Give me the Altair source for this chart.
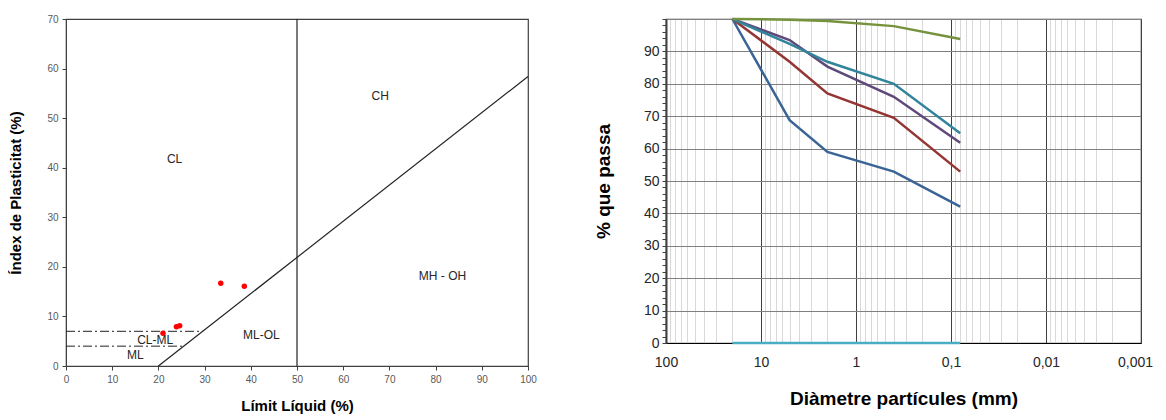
import altair as alt
import pandas as pd

FONT = "Liberation Sans"

# ---------------- Left chart: plasticity chart ----------------
pts_ll = [21.0, 23.9, 24.6, 33.5, 38.6]
pts_pi = [6.6, 7.9, 8.1, 16.7, 16.1]

aline_ll = [20, 100]
aline_pi = [0, 58.4]

vline_ll = [50, 50]
vline_pi = [0, 70]

dash7_ll = [0, 29.6]
dash7_pi = [7, 7]
dash4_ll = [0, 25.5]
dash4_pi = [4, 4]

zone_names = ["CL", "CH", "MH  - OH", "ML-OL", "CL-ML", "ML"]
zone_ll = [23.5, 68.0, 81.5, 42.3, 19.3, 15.0]
zone_pi = [41.8, 54.5, 18.2, 6.3, 5.2, 2.2]

# ---------------- Right chart: grading curves ----------------
sieves = [20, 5, 2, 0.4, 0.08]
s1 = [100, 68.8, 59.0, 52.9, 42.1]
s2 = [100, 86.8, 77.0, 69.5, 52.9]
s3 = [100, 93.5, 85.3, 76.0, 61.8]
s4 = [100, 92.3, 86.8, 80.0, 64.7]
s5 = [100, 99.8, 99.4, 97.8, 93.8]
s6 = [0, 0, 0, 0, 0]
series_names = ["M1", "M2", "M3", "M4", "M5", "M6"]
series_colors = ["#3B6496", "#943634", "#5F497A", "#31849B", "#76923C", "#4BACC6"]

x_major = [100, 10, 1, 0.1, 0.01, 0.001]
x_minor = []
for dec in [10, 1, 0.1, 0.01, 0.001]:
    for m in range(2, 10):
        x_minor.append(round(m * dec, 6))
x_ticks = x_major + x_minor

y_ticks = list(range(0, 101, 2))

# ================= build left =================
LX = alt.Scale(domain=[0, 100], nice=False)
LY = alt.Scale(domain=[0, 70], nice=False)

left_x_axis = alt.Axis(values=list(range(0, 101, 10)), title="Límit Líquid (%)", grid=False,
                       labelFontSize=10, labelColor="#595959", titleFontSize=15,
                       titleFontWeight="bold", titlePadding=14, tickSize=4, labelFlush=False,
                       domainColor="#404040", tickColor="#404040", labelPadding=4)
left_y_axis = alt.Axis(values=list(range(0, 71, 10)), title="Índex de Plasticitat (%)", grid=False,
                       labelFontSize=10, labelColor="#595959", titleFontSize=15,
                       titleFontWeight="bold", titlePadding=23, tickSize=4, labelFlush=False,
                       domainColor="#404040", tickColor="#404040", labelPadding=4)

def seg(xs, ys, name):
    return pd.DataFrame({"x": xs, "y": ys, "o": list(range(len(xs))), "g": name})

solid_df = pd.concat([seg(aline_ll, aline_pi, "A"), seg(vline_ll, vline_pi, "V")])
dash_df = pd.concat([seg(dash7_ll, dash7_pi, "D7"), seg(dash4_ll, dash4_pi, "D4")])

solid = alt.Chart(solid_df).mark_line(color="#222222", strokeWidth=1.2).encode(
    x=alt.X("x:Q", scale=LX, axis=left_x_axis),
    y=alt.Y("y:Q", scale=LY, axis=left_y_axis),
    detail="g:N", order="o:Q")

dashed = alt.Chart(dash_df).mark_line(color="#222222", strokeWidth=1, strokeDash=[9, 3, 2, 3]).encode(
    x=alt.X("x:Q", scale=LX), y=alt.Y("y:Q", scale=LY), detail="g:N", order="o:Q")

pts = alt.Chart(pd.DataFrame({"x": pts_ll, "y": pts_pi})).mark_circle(color="#FF0000", size=30, opacity=1).encode(
    x=alt.X("x:Q", scale=LX), y=alt.Y("y:Q", scale=LY))

zones = alt.Chart(pd.DataFrame({"x": zone_ll, "y": zone_pi, "t": zone_names})).mark_text(
    font=FONT, fontSize=12, color="#262626").encode(
    x=alt.X("x:Q", scale=LX), y=alt.Y("y:Q", scale=LY), text="t:N")

left = alt.layer(solid, dashed, pts, zones).properties(width=462, height=347)

# ================= build right =================
rows = []
for name, vals in zip(series_names, [s1, s2, s3, s4, s5, s6]):
    for i, (d, v) in enumerate(zip(sieves, vals)):
        rows.append({"d": d, "p": v, "s": name, "o": i})
rdf = pd.DataFrame(rows)

RX = alt.Scale(type="log", domain=[0.001, 100], reverse=True, nice=False)
RY = alt.Scale(domain=[0, 100], nice=False)

label_expr = ("datum.value == 100 ? '100' : datum.value == 10 ? '10' : datum.value == 1 ? '1' : "
              "abs(datum.value - 0.1) < 1e-9 ? '0,1' : abs(datum.value - 0.01) < 1e-9 ? '0,01' : "
              "abs(datum.value - 0.001) < 1e-9 ? '0,001' : ''")
is_major_x = "abs(log(datum.value)/LN10 - round(log(datum.value)/LN10)) < 1e-6"

right_x_axis = alt.Axis(values=x_ticks, labelExpr=label_expr, title="Diàmetre partícules (mm)",
                        grid=True,
                        gridColor=alt.condition(is_major_x, alt.value("#404040"), alt.value("#D9D9D9")),
                        gridWidth=1, labelFontSize=14, labelColor="#262626", titleFontSize=19,
                        titleFontWeight="bold", titlePadding=20, tickSize=0, domainColor="#000000",
                        labelPadding=12, labelFlush=False, labelOverlap=False,
                        labelOffset=alt.condition("datum.value < 0.0015", alt.value(-6), alt.value(0)))
right_y_axis = alt.Axis(values=y_ticks,
                        labelExpr="datum.value % 10 == 0 && datum.value < 100 ? datum.value : ''",
                        title="% que passa", grid=True,
                        gridColor=alt.condition("datum.value % 10 == 0", alt.value("#808080"), alt.value("transparent")),
                        gridWidth=1.2, labelFontSize=14, labelColor="#262626", titleFontSize=19,
                        titleFontWeight="bold", titlePadding=30, tickSize=4, tickColor="#404040",
                        domainColor="#404040", domainWidth=2, labelPadding=3, labelOverlap=False,
                        labelFlush=False)

lines = alt.Chart(rdf).mark_line(strokeWidth=2.5).encode(
    x=alt.X("d:Q", scale=RX, axis=right_x_axis),
    y=alt.Y("p:Q", scale=RY, axis=right_y_axis),
    color=alt.Color("s:N", scale=alt.Scale(domain=series_names, range=series_colors), legend=None),
    detail="s:N",
    order="o:Q",
)

right = alt.layer(lines).properties(width=475, height=324)

chart = alt.hconcat(left, right, spacing=56).properties(padding={"left": 0, "top": 3, "right": 0, "bottom": 0}).configure(
    font=FONT
).configure_view(stroke="#404040", strokeWidth=1.2)

chart.save("out.html", embed_options={"renderer": "svg", "actions": False})
